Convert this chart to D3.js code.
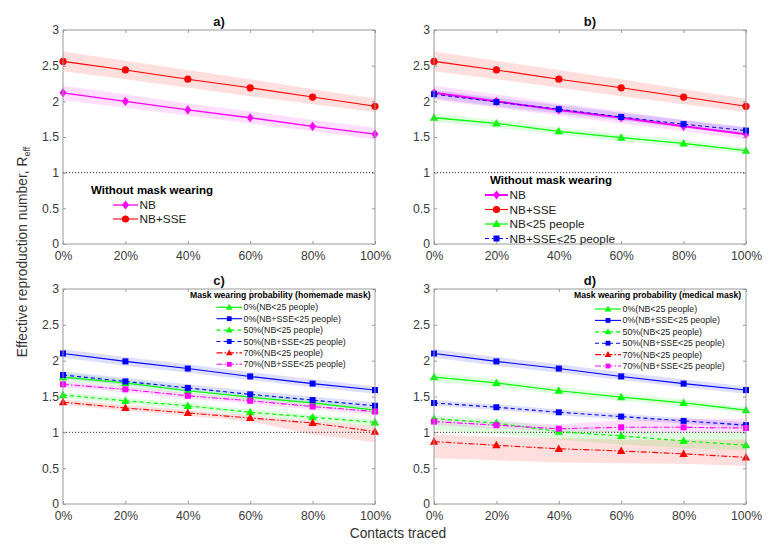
<!DOCTYPE html>
<html><head><meta charset="utf-8">
<script src="https://cdn.jsdelivr.net/npm/d3@7"></script>
<style>body{margin:0;background:#fff}svg{font-family:"Liberation Sans",Arial,Helvetica,sans-serif}</style>
</head><body><svg id="chart" width="773" height="552"></svg>
<script>
// ---------- data ----------
const contactsTraced = [0, 20, 40, 60, 80, 100];
const xTickLabels = ["0%", "20%", "40%", "60%", "80%", "100%"];
const yTickValues = [0, 0.5, 1, 1.5, 2, 2.5, 3];
const yTickLabels = ["0", "0.5", "1", "1.5", "2", "2.5", "3"];
const panelTitles = ["a)", "b)", "c)", "d)"];
const legendTitles = ["Without mask wearing", "Without mask wearing",
  "Mask wearing probability (homemade mask)", "Mask wearing probability (medical mask)"];
const namesNoMask = ["NB", "NB+SSE", "NB<25 people", "NB+SSE<25 people"];
const namesMask = ["0%(NB<25 people)", "0%(NB+SSE<25 people)", "50%(NB<25 people)",
  "50%(NB+SSE<25 people)", "70%(NB<25 people)", "70%(NB+SSE<25 people)"];
const xAxisLabel = "Contacts traced";

// without mask
const nb      = [2.12, 2.00, 1.88, 1.77, 1.65, 1.54];
const nbLo    = [2.02, 1.91, 1.80, 1.69, 1.58, 1.47];
const nbHi    = [2.22, 2.10, 1.97, 1.86, 1.74, 1.63];
const nbSse   = [2.56, 2.44, 2.31, 2.19, 2.06, 1.93];
const nbSseLo = [2.42, 2.31, 2.19, 2.07, 1.96, 1.85];
const nbSseHi = [2.70, 2.57, 2.44, 2.31, 2.17, 2.04];
const nbLt25    = [1.77, 1.69, 1.58, 1.49, 1.41, 1.31];
const nbLt25Lo  = [1.71, 1.63, 1.53, 1.44, 1.36, 1.27];
const nbLt25Hi  = [1.83, 1.74, 1.63, 1.54, 1.46, 1.35];
const nbSseLt25   = [2.10, 1.99, 1.89, 1.78, 1.68, 1.59];
const nbSseLt25Lo = [2.04, 1.93, 1.83, 1.73, 1.63, 1.54];
const nbSseLt25Hi = [2.16, 2.05, 1.95, 1.84, 1.74, 1.64];

// homemade mask
const home50Nb     = [1.52, 1.44, 1.37, 1.28, 1.21, 1.14];
const home50NbLo   = [1.48, 1.40, 1.33, 1.24, 1.16, 1.08];
const home50NbHi   = [1.56, 1.48, 1.41, 1.32, 1.25, 1.18];
const home50Sse    = [1.80, 1.71, 1.62, 1.53, 1.45, 1.37];
const home50SseLo  = [1.75, 1.66, 1.57, 1.49, 1.41, 1.33];
const home50SseHi  = [1.85, 1.76, 1.67, 1.58, 1.50, 1.42];
const home70Nb     = [1.42, 1.34, 1.27, 1.20, 1.13, 1.01];
const home70NbLo   = [1.38, 1.30, 1.23, 1.15, 0.97, 0.86];
const home70NbHi   = [1.46, 1.38, 1.31, 1.24, 1.16, 1.09];
const home70Sse    = [1.67, 1.60, 1.51, 1.44, 1.36, 1.29];
const home70SseLo  = [1.63, 1.56, 1.47, 1.40, 1.32, 1.25];
const home70SseHi  = [1.71, 1.64, 1.55, 1.48, 1.40, 1.33];

// medical mask
const med50Nb     = [1.19, 1.13, 1.01, 0.95, 0.88, 0.82];
const med50NbLo   = [1.03, 0.98, 0.90, 0.83, 0.78, 0.75];
const med50NbHi   = [1.23, 1.18, 1.07, 1.02, 1.00, 1.00];
const med50Sse    = [1.41, 1.35, 1.28, 1.22, 1.16, 1.10];
const med50SseLo  = [1.37, 1.31, 1.24, 1.18, 1.12, 1.06];
const med50SseHi  = [1.45, 1.39, 1.32, 1.26, 1.20, 1.14];
const med70Nb     = [0.87, 0.82, 0.77, 0.74, 0.70, 0.65];
const med70NbLo   = [0.64, 0.61, 0.58, 0.57, 0.56, 0.53];
const med70NbHi   = [0.97, 0.94, 0.92, 0.90, 0.90, 0.90];
const med70Sse    = [1.15, 1.10, 1.05, 1.07, 1.07, 1.06];
const med70SseLo  = [1.10, 1.05, 1.01, 1.00, 1.00, 0.99];
const med70SseHi  = [1.20, 1.15, 1.11, 1.17, 1.19, 1.19];

// ---------- styles ----------
const MAG = "#ff00ff", RED = "#ff0000", GRN = "#00ff00", BLU = "#0000ff";
const DASH = "4,3", DASHDOT = "6,2,1.5,2";
const AX = "#9a9a9a", TXT = "#3a3a3a";

const svg = d3.select("#chart");

const panels = [
  { title: panelTitles[0], box: {l: 63, r: 375, t: 30, b: 244},
    series: [
      {v: nb, lo: nbLo, hi: nbHi, name: namesNoMask[0], color: MAG, marker: "diamond", dash: null, w: 1.3},
      {v: nbSse, lo: nbSseLo, hi: nbSseHi, name: namesNoMask[1], color: RED, marker: "circle", dash: null, w: 1.1}],
    legend: {tx: 91, ty: 190, x0: 113, x1: 138, y0: 205, dy: 14, fs: 11.8, tfs: 11.5, ms: 1}},
  { title: panelTitles[1], box: {l: 434, r: 746, t: 30, b: 244},
    series: [
      {v: nb, lo: nbLo, hi: nbHi, name: namesNoMask[0], color: MAG, marker: "diamond", dash: null, w: 2},
      {v: nbSse, lo: nbSseLo, hi: nbSseHi, name: namesNoMask[1], color: RED, marker: "circle", dash: null, w: 1.1},
      {v: nbLt25, lo: nbLt25Lo, hi: nbLt25Hi, name: namesNoMask[2], color: GRN, marker: "triangle", dash: null, w: 1.3},
      {v: nbSseLt25, lo: nbSseLt25Lo, hi: nbSseLt25Hi, name: namesNoMask[3], color: BLU, marker: "square", dash: DASH, w: 1}],
    legend: {tx: 490, ty: 180, x0: 485, x1: 508, y0: 195, dy: 14.5, fs: 11.8, tfs: 11.5, ms: 1}},
  { title: panelTitles[2], box: {l: 63, r: 375, t: 289, b: 504},
    series: [
      {v: nbLt25, lo: nbLt25Lo, hi: nbLt25Hi, name: namesMask[0], color: GRN, marker: "triangle", dash: null, w: 1.2},
      {v: nbSseLt25, lo: nbSseLt25Lo, hi: nbSseLt25Hi, name: namesMask[1], color: BLU, marker: "square", dash: null, w: 1.1},
      {v: home50Nb, lo: home50NbLo, hi: home50NbHi, name: namesMask[2], color: GRN, marker: "triangle", dash: DASH, w: 1.2},
      {v: home50Sse, lo: home50SseLo, hi: home50SseHi, name: namesMask[3], color: BLU, marker: "square", dash: DASH, w: 1.1},
      {v: home70Nb, lo: home70NbLo, hi: home70NbHi, name: namesMask[4], color: RED, marker: "triangle", dash: DASHDOT, w: 1.1},
      {v: home70Sse, lo: home70SseLo, hi: home70SseHi, name: namesMask[5], color: MAG, marker: "square", dash: DASHDOT, w: 1.1}],
    legend: {tx: 190, ty: 294.5, x0: 216.5, x1: 242, y0: 307.3, dy: 11.4, fs: 8.8, tfs: 8.6, ms: 0.8}},
  { title: panelTitles[3], box: {l: 434, r: 746, t: 289, b: 504},
    series: [
      {v: nbLt25, lo: nbLt25Lo, hi: nbLt25Hi, name: namesMask[0], color: GRN, marker: "triangle", dash: null, w: 1.2},
      {v: nbSseLt25, lo: nbSseLt25Lo, hi: nbSseLt25Hi, name: namesMask[1], color: BLU, marker: "square", dash: null, w: 1.1},
      {v: med50Nb, lo: med50NbLo, hi: med50NbHi, name: namesMask[2], color: GRN, marker: "triangle", dash: DASH, w: 1.2},
      {v: med50Sse, lo: med50SseLo, hi: med50SseHi, name: namesMask[3], color: BLU, marker: "square", dash: DASH, w: 1.1},
      {v: med70Nb, lo: med70NbLo, hi: med70NbHi, name: namesMask[4], color: RED, marker: "triangle", dash: DASHDOT, w: 1.1},
      {v: med70Sse, lo: med70SseLo, hi: med70SseHi, name: namesMask[5], color: MAG, marker: "square", dash: DASHDOT, w: 1.1}],
    legend: {tx: 574, ty: 295, x0: 595, x1: 621, y0: 309, dy: 11.4, fs: 8.8, tfs: 8.6, ms: 0.8}}
];

function drawMarker(g, type, cx, cy, color, k) {
  if (type === "circle") {
    g.append("circle").attr("cx", cx).attr("cy", cy).attr("r", 3.6 * k).attr("fill", color);
  } else if (type === "square") {
    const s = 3 * k;
    g.append("rect").attr("x", cx - s).attr("y", cy - s).attr("width", 2 * s).attr("height", 2 * s).attr("fill", color);
  } else if (type === "triangle") {
    const s = 4.4 * k;
    g.append("path").attr("d", `M${cx},${cy - s}L${cx + s * 0.95},${cy + s * 0.7}L${cx - s * 0.95},${cy + s * 0.7}Z`).attr("fill", color);
  } else if (type === "diamond") {
    const s = 4.6 * k;
    g.append("path").attr("d", `M${cx},${cy - s}L${cx + s * 0.75},${cy}L${cx},${cy + s}L${cx - s * 0.75},${cy}Z`).attr("fill", color);
  }
}

panels.forEach((p, pi) => {
  const {l, r, t, b} = p.box;
  const x = d3.scaleLinear().domain([0, 100]).range([l, r]);
  const y = d3.scaleLinear().domain([0, 3]).range([b, t]);
  const g = svg.append("g");

  // axes
  const ax = g.append("g").attr("transform", `translate(0,${b})`)
    .call(d3.axisBottom(x).tickValues(contactsTraced).tickFormat((d, i) => xTickLabels[i])
      .tickSizeInner(-3).tickSizeOuter(0).tickPadding(7.5));
  const ay = g.append("g").attr("transform", `translate(${l},0)`)
    .call(d3.axisLeft(y).tickValues(yTickValues).tickFormat((d, i) => yTickLabels[i])
      .tickSizeInner(-3).tickSizeOuter(0).tickPadding(4));
  const at = g.append("g").attr("transform", `translate(0,${t})`)
    .call(d3.axisTop(x).tickValues(contactsTraced).tickFormat("").tickSizeInner(-3).tickSizeOuter(0));
  const ar = g.append("g").attr("transform", `translate(${r},0)`)
    .call(d3.axisRight(y).tickValues(yTickValues).tickFormat("").tickSizeInner(-3).tickSizeOuter(0));
  [ax, ay, at, ar].forEach(a => {
    a.select(".domain").remove();
    a.selectAll("line").attr("stroke", AX);
    a.selectAll("text").attr("fill", TXT).style("font-size", "12.2px")
      .style("font-family", '"Liberation Sans",Arial,sans-serif');
  });

  const plot = g.append("g");
  // bands
  p.series.forEach(s => {
    const area = d3.area().x((d, i) => x(contactsTraced[i])).y0((d, i) => y(s.lo[i])).y1((d, i) => y(s.hi[i]));
    plot.append("path").attr("d", area(s.v)).attr("fill", s.color).attr("fill-opacity", 0.13).attr("stroke", "none");
  });
  // reference line at 1
  plot.append("line").attr("x1", x(0)).attr("x2", x(100)).attr("y1", y(1)).attr("y2", y(1))
    .attr("stroke", "#222").attr("stroke-width", 0.9).attr("stroke-dasharray", "1.2,1.8");
  // lines and markers
  p.series.forEach(s => {
    const line = d3.line().x((d, i) => x(contactsTraced[i])).y(d => y(d));
    plot.append("path").attr("d", line(s.v)).attr("fill", "none").attr("stroke", s.color)
      .attr("stroke-width", s.w).attr("stroke-dasharray", s.dash);
    s.v.forEach((d, i) => drawMarker(plot, s.marker, x(contactsTraced[i]), y(d), s.color, 1));
  });

  // box
  g.append("rect").attr("x", l).attr("y", t).attr("width", r - l).attr("height", b - t)
    .attr("fill", "none").attr("stroke", AX).attr("stroke-width", 1);

  // title
  g.append("text").attr("x", (l + r) / 2).attr("y", t - 4.5).attr("text-anchor", "middle")
    .attr("font-weight", "bold").attr("font-size", 13).attr("fill", "#111").text(p.title);

  // legend
  const L = p.legend;
  const lg = g.append("g");
  lg.append("text").attr("x", L.tx).attr("y", L.ty).attr("dominant-baseline", "central")
    .attr("font-weight", "bold").attr("font-size", L.tfs).attr("fill", "#000").text(legendTitles[pi]);
  p.series.forEach((s, i) => {
    const yy = L.y0 + i * L.dy;
    lg.append("line").attr("x1", L.x0).attr("x2", L.x1).attr("y1", yy).attr("y2", yy)
      .attr("stroke", s.color).attr("stroke-width", s.w).attr("stroke-dasharray", s.dash);
    drawMarker(lg, s.marker, (L.x0 + L.x1) / 2, yy, s.color, L.ms);
    lg.append("text").attr("x", L.x1 + 1.5).attr("y", yy).attr("dominant-baseline", "central")
      .attr("font-size", L.fs).attr("fill", "#222").text(s.name);
  });
});

// axis labels
svg.append("text").attr("x", 398).attr("y", 538).attr("text-anchor", "middle")
  .attr("font-size", 13.8).attr("fill", "#333").text(xAxisLabel);
const yl = svg.append("text").attr("transform", "translate(27,252) rotate(-90)")
  .attr("text-anchor", "middle").attr("font-size", 13.8).attr("fill", "#333");
yl.append("tspan").text("Effective reproduction number, R");
yl.append("tspan").attr("font-size", 9).attr("dy", 3).text("eff");
</script></body></html>
